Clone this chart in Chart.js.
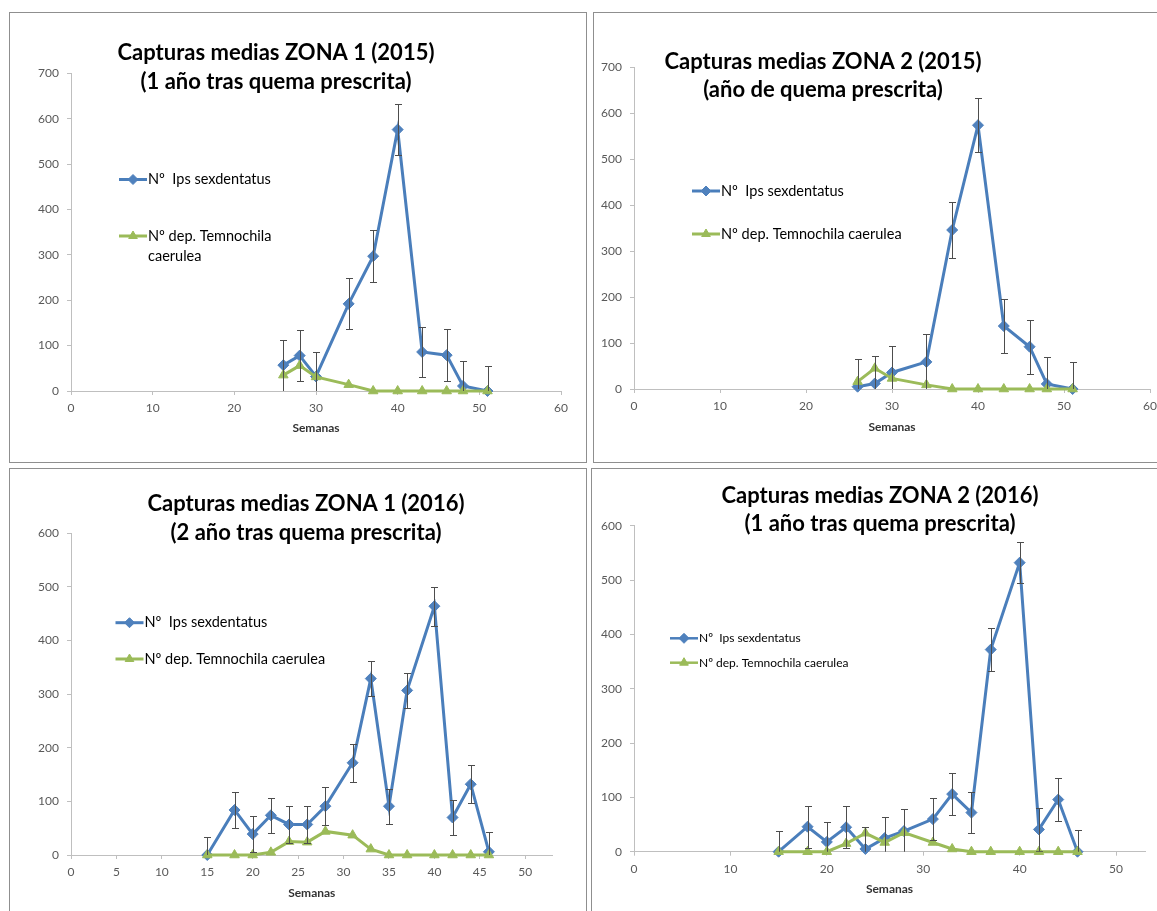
<!DOCTYPE html>
<html lang="es">
<head>
<meta charset="utf-8">
<title>Capturas medias</title>
<script src="https://cdn.jsdelivr.net/npm/chart.js@4.4.1/dist/chart.umd.min.js"></script>
<style>
  html, body { margin: 0; padding: 0; background: #fff; }
  body { position: relative; width: 1157px; height: 911px; overflow: hidden; }
  .panel { position: absolute; box-sizing: border-box; border: 1px solid #8f8f8f; background: #fff; }
  .panel canvas { position: absolute; left: 0; top: 0; }
</style>
</head>
<body>
<div class="panel" id="panel1"><canvas id="chart1"></canvas></div>
<div class="panel" id="panel2"><canvas id="chart2"></canvas></div>
<div class="panel" id="panel3"><canvas id="chart3"></canvas></div>
<div class="panel" id="panel4"><canvas id="chart4"></canvas></div>
<script>
const FONT = 'Lato, "Open Sans", "DejaVu Sans", sans-serif';

// ---- data (mean captures per trap) ----
const weeks2015 = [26, 28, 30, 34, 37, 40, 43, 46, 48, 51];
const ipsZona1_2015 = [57, 78, 32, 192, 297, 576, 86, 79, 11, 0];
const ipsErrZona1_2015 = [56, 57, 55, 56, 57, 57, 56, 57, 55, 56];
const temnoZona1_2015 = [35, 56, 31, 14, 0, 0, 0, 0, 0, 0];

const ipsZona2_2015 = [5, 12, 36, 59, 346, 574, 137, 92, 11, 0];
const ipsErrZona2_2015 = [61, 60, 58, 60, 60, 59, 59, 59, 59, 59];
const temnoZona2_2015 = [16, 45, 23, 9, 0, 0, 0, 0, 0, 0];

const weeks2016 = [15, 18, 20, 22, 24, 26, 28, 31, 33, 35, 37, 40, 42, 44, 46];
const ipsZona1_2016 = [0, 84, 39, 74, 57, 57, 91, 172, 329, 91, 307, 464, 70, 132, 6];
const ipsErrZona1_2016 = [34, 34, 33, 33, 34, 34, 35, 35, 33, 33, 33, 36, 32, 35, 36];
const temnoZona1_2016 = [0, 0, 0, 5, 25, 24, 44, 37, 11, 0, 0, 0, 0, 0, 0];

const ipsZona2_2016 = [0, 46, 18, 45, 5, 25, 38, 60, 106, 72, 372, 532, 41, 96, 0];
const ipsErrZona2_2016 = [38, 39, 37, 39, 40, 39, 41, 38, 38, 37, 39, 38, 40, 39, 40];
const temnoZona2_2016 = [0, 0, 0, 15, 34, 17, 35, 17, 5, 0, 0, 0, 0, 0, 0];

const legendLabels = ['Nº  Ips sexdentatus', 'Nº dep. Temnochila caerulea'];
const titles = [
  ['Capturas medias ZONA 1 (2015)', '(1 año tras quema prescrita)'],
  ['Capturas medias ZONA 2 (2015)', '(año de quema prescrita)'],
  ['Capturas medias ZONA 1 (2016)', '(2 año tras quema prescrita)'],
  ['Capturas medias ZONA 2 (2016)', '(1 año tras quema prescrita)']
];
const xAxisLabel = 'Semanas';

const series = [
  { weeks: weeks2015, ips: ipsZona1_2015, err: ipsErrZona1_2015, temno: temnoZona1_2015 },
  { weeks: weeks2015, ips: ipsZona2_2015, err: ipsErrZona2_2015, temno: temnoZona2_2015 },
  { weeks: weeks2016, ips: ipsZona1_2016, err: ipsErrZona1_2016, temno: temnoZona1_2016 },
  { weeks: weeks2016, ips: ipsZona2_2016, err: ipsErrZona2_2016, temno: temnoZona2_2016 }
];

const BLUE = '#4a7ebb';
const BLUE_FILL = '#4f81bd';
const GREEN = '#9bbb59';
const AXIS = '#bfbfbf';
const TICK_TEXT = '#595959';

// page layout: box = panel border [left, top, width, height], plot = chart area [left, top, right, bottom]
const layouts = [
  { box: [9, 12, 578, 451], plot: [71, 73.3, 561, 391], semanasY: 428, xMax: 60, xStep: 10, yMax: 700,
    title: { x: 276, y: 53, gap: 29, size: 22 }, legend: { x: 119, y: [179.5, 236], size: 14.5, lineGap: 20, maxWidth: 135 } },
  { box: [593, 12, 600, 451], plot: [634, 67.3, 1150, 389], semanasY: 427, xMax: 60, xStep: 10, yMax: 700,
    title: { x: 823, y: 62, gap: 28, size: 22 }, legend: { x: 692, y: [191, 234], size: 14.5 } },
  { box: [9, 468, 578, 460], plot: [71, 533.3, 552.5, 855], semanasY: 892.7, xMax: 53, xStep: 5, yMax: 600,
    title: { x: 306, y: 504, gap: 29, size: 22 }, legend: { x: 115.5, y: [622.7, 659], size: 14.5 } },
  { box: [591, 468, 600, 460], plot: [634, 525.7, 1145, 851.7], semanasY: 889, xMax: 53, xStep: 10, yMax: 600,
    title: { x: 880, y: 496, gap: 28, size: 22 }, legend: { x: 670, y: [638.3, 662.7], size: 12, lineWidth: 2.5 } }
];

// vertical error bars (± err), clipped to the plot like Excel does
const errorBars = {
  id: 'errorBars',
  afterDatasetsDraw(chart, args, opts) {
    const { ctx, chartArea, scales: { x, y } } = chart;
    const cap = opts.capWidth / 2;
    ctx.save();
    ctx.beginPath();
    ctx.rect(chartArea.left - cap - 1, chartArea.top - 2, chartArea.width + 2 * cap + 2, chartArea.height + 2);
    ctx.clip();
    ctx.strokeStyle = opts.color;
    ctx.lineWidth = 1;
    chart.data.datasets.forEach(ds => {
      if (!ds.errorBars) return;
      ds.data.forEach((p, i) => {
        const e = ds.errorBars[i];
        const px = Math.round(x.getPixelForValue(p.x)) + 0.5;
        const top = Math.round(y.getPixelForValue(p.y + e)) + 0.5;
        const bottom = Math.round(y.getPixelForValue(p.y - e)) + 0.5;
        ctx.beginPath();
        ctx.moveTo(px, top);
        ctx.lineTo(px, bottom);
        ctx.moveTo(px - cap, top);
        ctx.lineTo(px + cap, top);
        ctx.moveTo(px - cap, bottom);
        ctx.lineTo(px + cap, bottom);
        ctx.stroke();
      });
    });
    ctx.restore();
  }
};

function wrapText (ctx, text, maxWidth) {
  if (!maxWidth || ctx.measureText(text).width <= maxWidth) return [text];
  const words = text.split(' ');
  const lines = [];
  let line = '';
  words.forEach(w => {
    const test = line ? line + ' ' + w : w;
    if (line && ctx.measureText(test).width > maxWidth) {
      lines.push(line);
      line = w;
    } else {
      line = test;
    }
  });
  if (line) lines.push(line);
  return lines;
}

/**
 * Title over the plot and the in-plot legend (Excel style).
 * ox/oy: page position of the canvas, layout values are in page px.
 */
function makeChartText (text, lay, ox, oy) {
  const t = lay.title;
  const lg = lay.legend;
  return {
    id: 'chartText',
    afterDraw(chart) {
      const { ctx } = chart;
      ctx.save();

      ctx.fillStyle = '#000';
      ctx.font = `bold ${t.size}px ${FONT}`;
      ctx.textAlign = 'center';
      ctx.textBaseline = 'middle';
      text.forEach((line, i) => ctx.fillText(line, t.x - ox, t.y - oy + i * t.gap));

      ctx.font = `${lg.size}px ${FONT}`;
      ctx.textAlign = 'left';
      const lx = lg.x - ox;
      chart.data.datasets.forEach((ds, i) => {
        const y = lg.y[i] - oy;
        ctx.strokeStyle = ds.borderColor;
        ctx.lineWidth = lg.lineWidth || 3;
        ctx.beginPath();
        ctx.moveTo(lx, y);
        ctx.lineTo(lx + 28, y);
        ctx.stroke();
        ctx.fillStyle = ds.pointBackgroundColor;
        ctx.strokeStyle = ds.pointBorderColor;
        ctx.lineWidth = 1;
        Chart.helpers.drawPoint(ctx, { pointStyle: ds.pointStyle, radius: ds.pointRadius - 0.5, rotation: 0, borderWidth: 1 }, lx + 14, y);
        ctx.fillStyle = '#000';
        wrapText(ctx, ds.label, lg.maxWidth).forEach((line, j) => {
          ctx.fillText(line, lx + 29, y + j * (lg.lineGap || 0));
        });
      });
      ctx.restore();
    }
  };
}

function points (xs, ys) {
  return xs.map((x, i) => ({ x, y: ys[i] }));
}

layouts.forEach((lay, i) => {
  const [bx, by, bw, bh] = lay.box;
  const panel = document.getElementById('panel' + (i + 1));
  Object.assign(panel.style, { left: bx + 'px', top: by + 'px', width: bw + 'px', height: bh + 'px' });

  // canvas sits inside the 1px border
  const ox = bx + 1;
  const oy = by + 1;
  const cw = bw - 2;
  const ch = bh - 2;
  const canvas = document.getElementById('chart' + (i + 1));
  canvas.width = cw;
  canvas.height = ch;

  const left = lay.plot[0] - ox;
  const top = lay.plot[1] - oy;
  const right = lay.plot[2] - ox;
  const bottom = lay.plot[3] - oy;
  const axisBottom = lay.semanasY - oy + 7.2;
  const s = series[i];

  new Chart(canvas, {
    type: 'line',
    data: {
      datasets: [
        {
          label: legendLabels[0],
          data: points(s.weeks, s.ips),
          errorBars: s.err,
          borderColor: BLUE,
          borderWidth: 3,
          pointStyle: 'rectRot',
          pointRadius: 5.5,
          pointBackgroundColor: BLUE_FILL,
          pointBorderColor: BLUE_FILL,
          pointBorderWidth: 1,
          tension: 0,
          clip: false,
          order: 2
        },
        {
          label: legendLabels[1],
          data: points(s.weeks, s.temno),
          borderColor: GREEN,
          borderWidth: 3,
          pointStyle: 'triangle',
          pointRadius: 5.5,
          pointBackgroundColor: GREEN,
          pointBorderColor: GREEN,
          pointBorderWidth: 1,
          tension: 0,
          clip: false,
          order: 1
        }
      ]
    },
    options: {
      responsive: false,
      animation: false,
      events: [],
      layout: { padding: { left: 0, top: top, right: cw - right, bottom: ch - axisBottom } },
      plugins: {
        legend: { display: false },
        tooltip: { enabled: false },
        title: { display: false },
        errorBars: { color: '#4d4d4d', capWidth: 7 }
      },
      scales: {
        x: {
          type: 'linear',
          min: 0,
          max: lay.xMax,
          afterFit: sc => { sc.height = axisBottom - bottom; },
          ticks: { stepSize: lay.xStep, includeBounds: false, maxRotation: 0, padding: 6, color: TICK_TEXT, font: { family: FONT, size: 12 } },
          grid: { display: true, drawOnChartArea: false, drawTicks: true, tickLength: 4, color: AXIS },
          border: { display: true, color: AXIS, width: 1 },
          title: { display: true, text: xAxisLabel, color: '#333', padding: 0, font: { family: FONT, size: 12, weight: 'bold' } }
        },
        y: {
          min: 0,
          max: lay.yMax,
          afterFit: sc => { sc.width = left; },
          ticks: { stepSize: 100, padding: 8, color: TICK_TEXT, font: { family: FONT, size: 12 } },
          grid: { display: true, drawOnChartArea: false, drawTicks: true, tickLength: 4, color: AXIS },
          border: { display: true, color: AXIS, width: 1 }
        }
      }
    },
    plugins: [errorBars, makeChartText(titles[i], lay, ox, oy)]
  });
});
</script>
</body>
</html>
